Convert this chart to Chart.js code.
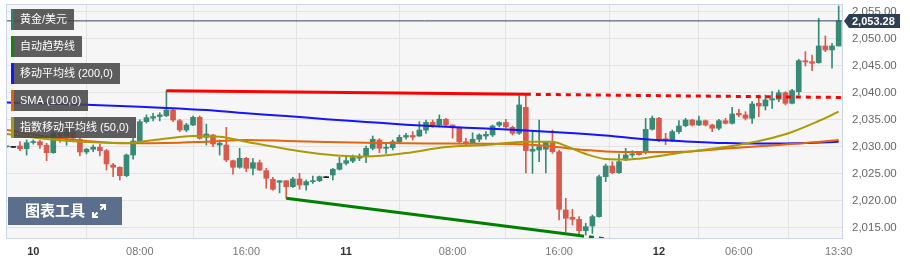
<!DOCTYPE html>
<html>
<head>
<meta charset="utf-8">
<script src="https://cdn.jsdelivr.net/npm/chart.js@4.4.1/dist/chart.umd.min.js"></script>
<style>
body { margin: 0; background: #fff; font-family: "Liberation Sans", Arial, "Noto Sans CJK SC", sans-serif; }
#wrap { position: relative; width: 910px; height: 264px; }
.tag { position: absolute; left: 11px; height: 21px; line-height: 21px; background: rgba(72,72,72,0.88);
       color: #fff; font-size: 11px; padding: 0 7px 0 6px; border-left: 3px solid; white-space: nowrap; }
#tools { position: absolute; left: 8px; top: 197px; width: 114px; height: 28px; background: #5b6f8d;
         color: #fff; font-size: 15px; font-weight: bold; line-height: 28px; box-sizing: border-box; padding-left: 17px; }
#tools svg { position: absolute; left: 84px; top: 7px; }
</style>
</head>
<body>
<div id="wrap">
  <canvas id="chart" width="910" height="264"></canvas>
  <div class="tag" style="top:9px;border-color:#2f7d6c">黄金/美元</div>
  <div class="tag" style="top:36px;border-color:#0a8a0a">自动趋势线</div>
  <div class="tag" style="top:63px;border-color:#1515ff">移动平均线 (200,0)</div>
  <div class="tag" style="top:90px;border-color:#e2620e">SMA (100,0)</div>
  <div class="tag" style="top:117px;border-color:#a89a05">指数移动平均线 (50,0)</div>
  <div id="tools">图表工具
    <svg width="14" height="14" viewBox="0 0 14 14"><path d="M8 1h5v5M13 1L8.5 5.5M6 13H1V8M1 13l4.5-4.5" stroke="#fff" stroke-width="2" fill="none"/></svg>
  </div>
</div>
<script>
// 30-minute gold candles, index 0 = first candle on the left
var open = [
  2030.0, 2029.9, 2030.16, 2029.66, 2030.8, 2030.95, 2030.29, 2028.92, 2032.5, 2032.0,
  2032.7, 2031.4, 2029.05, 2029.55, 2029.92, 2029.29, 2026.65, 2026.22, 2024.67, 2028.49,
  2031.08, 2034.65, 2035.3, 2035.6, 2035.75, 2036.8, 2034.83, 2033.11, 2034.04, 2035.46,
  2031.76, 2032.19, 2030.34, 2030.34, 2027.44, 2026.22, 2027.88, 2026.03, 2027.07, 2025.6,
  2024.0, 2023.45, 2023.74, 2022.63, 2024.06, 2022.95, 2023.56, 2023.74, 2024.3, 2024.8,
  2025.85, 2026.96, 2027.38, 2027.9, 2028.18, 2029.73, 2031.27, 2029.73, 2029.85, 2030.95,
  2031.8, 2032.1, 2032.0, 2033.1, 2034.53, 2034.04, 2035.1, 2034.04, 2033.43, 2030.95,
  2030.77, 2031.4, 2032.0, 2032.19, 2034.0, 2034.5, 2033.6, 2032.5, 2037.3, 2029.2,
  2029.42, 2029.55, 2030.66, 2029.1, 2018.33, 2016.98, 2016.6, 2014.5, 2015.37, 2017.1,
  2024.48, 2026.46, 2025.22, 2027.57, 2028.5, 2028.8, 2028.92, 2033.24, 2035.28, 2031.5,
  2031.27, 2032.8, 2033.9, 2034.96, 2034.04, 2034.83, 2034.04, 2033.43, 2034.83, 2034.35,
  2036.2, 2035.9, 2035.28, 2038.05, 2037.55, 2038.66, 2038.8, 2040.0, 2038.05, 2040.2,
  2045.92, 2045.74, 2045.55, 2048.64, 2047.9, 2048.64
];
var high = [
  2030.1, 2029.95, 2030.95, 2031.27, 2031.27, 2031.27, 2030.66, 2033.2, 2033.6, 2033.5,
  2033.2, 2031.64, 2029.73, 2030.34, 2030.53, 2029.55, 2026.96, 2026.33, 2028.68, 2031.58,
  2035.0, 2035.9, 2036.2, 2036.3, 2040.38, 2036.94, 2035.1, 2034.35, 2035.7, 2035.7,
  2034.2, 2032.3, 2031.27, 2033.6, 2027.57, 2029.73, 2028.07, 2027.81, 2027.57, 2026.03,
  2024.37, 2023.75, 2023.74, 2024.37, 2025.1, 2023.87, 2024.6, 2024.6, 2024.3, 2026.03,
  2028.07, 2028.07, 2028.49, 2028.68, 2030.16, 2032.0, 2031.5, 2030.66, 2031.27, 2032.19,
  2032.5, 2032.8, 2034.65, 2034.96, 2034.96, 2035.9, 2035.27, 2034.04, 2033.7, 2031.58,
  2032.6, 2032.4, 2032.8, 2034.04, 2034.65, 2035.1, 2033.85, 2039.4, 2039.9, 2032.8,
  2034.96, 2030.95, 2033.1, 2029.42, 2020.49, 2018.46, 2017.1, 2015.87, 2017.4, 2024.8,
  2026.83, 2027.26, 2028.68, 2029.73, 2029.29, 2028.9, 2035.27, 2035.7, 2035.46, 2032.5,
  2033.1, 2034.83, 2035.28, 2035.1, 2035.7, 2034.96, 2034.2, 2035.1, 2035.28, 2037.3,
  2036.94, 2036.5, 2038.35, 2039.58, 2039.58, 2040.2, 2040.5, 2040.2, 2040.64, 2046.18,
  2047.6, 2046.98, 2053.76, 2050.49, 2049.14, 2056.04
];
var low = [
  2029.9, 2029.85, 2029.29, 2028.49, 2030.5, 2029.73, 2027.44, 2028.8, 2030.8, 2030.3,
  2030.9, 2028.3, 2028.68, 2029.1, 2028.3, 2025.72, 2024.48, 2023.87, 2024.48, 2027.7,
  2030.9, 2034.4, 2034.8, 2034.8, 2035.6, 2034.65, 2032.8, 2032.8, 2033.9, 2031.4,
  2030.34, 2030.03, 2028.49, 2027.26, 2024.93, 2026.03, 2025.41, 2024.8, 2025.6, 2022.34,
  2022.0, 2021.5, 2020.49, 2022.52, 2022.15, 2022.0, 2023.26, 2023.56, 2024.3, 2023.87,
  2025.72, 2026.65, 2027.07, 2027.44, 2027.07, 2029.42, 2028.92, 2028.8, 2029.42, 2030.66,
  2031.4, 2031.27, 2031.9, 2032.5, 2033.6, 2033.7, 2033.85, 2031.6, 2030.53, 2030.34,
  2030.66, 2030.95, 2031.4, 2031.9, 2033.7, 2033.43, 2032.19, 2032.3, 2025.2, 2025.1,
  2027.26, 2025.2, 2028.8, 2016.5, 2014.3, 2015.55, 2013.7, 2013.7, 2014.0, 2017.0,
  2023.56, 2025.0, 2025.1, 2027.44, 2028.07, 2028.45, 2028.68, 2033.1, 2030.95, 2030.4,
  2030.95, 2032.5, 2033.7, 2033.85, 2033.9, 2033.85, 2032.8, 2033.11, 2034.2, 2034.2,
  2035.57, 2034.96, 2034.35, 2035.57, 2036.8, 2037.1, 2038.35, 2037.74, 2037.92, 2039.58,
  2044.94, 2044.08, 2045.44, 2047.59, 2044.52, 2048.64
];
var close = [
  2030.1, 2029.9, 2029.66, 2030.77, 2030.95, 2030.34, 2028.92, 2032.5, 2032.0, 2032.7,
  2031.6, 2029.05, 2029.55, 2029.92, 2029.29, 2026.83, 2026.22, 2024.67, 2028.49, 2031.08,
  2034.65, 2035.39, 2035.6, 2035.9, 2036.81, 2034.96, 2033.11, 2034.04, 2035.46, 2031.58,
  2032.38, 2030.53, 2030.66, 2027.57, 2026.22, 2027.88, 2026.03, 2027.07, 2025.72, 2024.19,
  2022.15, 2023.74, 2022.63, 2024.06, 2022.95, 2023.56, 2023.74, 2024.48, 2024.3, 2025.85,
  2026.96, 2027.44, 2028.0, 2028.07, 2029.73, 2031.4, 2029.73, 2029.85, 2030.95, 2031.76,
  2032.1, 2031.8, 2033.1, 2034.53, 2034.04, 2035.1, 2034.04, 2033.5, 2030.95, 2030.66,
  2031.4, 2032.19, 2032.3, 2033.85, 2034.5, 2033.7, 2032.5, 2037.74, 2029.3, 2029.55,
  2030.03, 2030.95, 2029.1, 2018.46, 2016.79, 2016.6, 2014.5, 2015.24, 2017.1, 2024.48,
  2026.46, 2025.22, 2027.26, 2028.49, 2028.7, 2028.55, 2033.24, 2035.28, 2031.27, 2031.2,
  2032.8, 2033.85, 2034.96, 2034.04, 2034.83, 2034.04, 2033.43, 2034.83, 2034.35, 2036.07,
  2035.9, 2035.28, 2037.92, 2037.55, 2038.66, 2038.9, 2040.0, 2038.05, 2040.38, 2045.92,
  2045.68, 2045.44, 2048.64, 2047.9, 2048.64, 2053.28
];

// moving averages, read at a handful of candles
var ma200Idx = [0, 6, 12, 18, 24, 30, 36, 42, 48, 54, 60, 66, 72, 78, 84, 90, 96, 102, 108, 114, 120, 125];
var ma200 = [2038.2, 2038.0, 2037.8, 2037.5, 2037.2, 2036.8, 2036.2, 2035.7, 2035.1, 2034.6, 2034.1,
             2033.7, 2033.4, 2033.0, 2032.6, 2032.1, 2031.4, 2031.0, 2030.7, 2030.6, 2030.7, 2030.95];
var sma100Idx = [0, 4, 8, 12, 18, 24, 30, 36, 42, 48, 54, 60, 66, 72, 78, 84, 87, 90, 96, 102, 108, 114, 120, 125];
var sma100 = [2033.1, 2032.3, 2031.6, 2031.1, 2030.65, 2030.7, 2030.95, 2031.25, 2031.1, 2030.9, 2030.75, 2030.66,
              2030.62, 2030.56, 2030.45, 2029.8, 2029.4, 2029.15, 2029.05, 2029.1, 2029.7, 2030.2, 2030.7, 2031.25];
var ema50Idx = [0, 6, 12, 18, 21, 24, 28, 32, 36, 42, 48, 54, 60, 66, 72, 78, 82, 84, 87, 90, 93, 96, 102, 108, 114, 118, 122, 125];
var ema50 = [2032.38, 2031.45, 2030.9, 2030.71, 2031.08, 2031.55, 2032.0, 2031.88, 2030.95, 2029.6, 2028.59, 2028.22,
             2028.86, 2029.97, 2030.34, 2030.95, 2030.95, 2030.16, 2028.68, 2027.75, 2027.66, 2027.94, 2029.05,
             2029.97, 2031.36, 2032.75, 2034.78, 2036.5];

// auto trend lines (candle index, price)
var resX = [24, 78], resY = [2040.38, 2039.71];
var resExtX = [78, 126], resExtY = [2039.71, 2039.12];
var supX = [42, 86], supY = [2020.49, 2013.6];
var supExtX = [86, 96], supExtY = [2013.6, 2012.05];

var lastPrice = 2053.28;
var yTicks = [2015, 2020, 2025, 2030, 2035, 2040, 2045, 2050, 2055];
var tickIdx = [4, 20, 36, 51, 67, 83, 98, 110, 125];
var tickText = ['10', '08:00', '16:00', '11', '08:00', '16:00', '12', '06:00', '13:30'];
var dayTick = [true, false, false, true, false, false, true, false, false];

var xMin = -0.1, xMax = 125.65;
var UP = '#378a76', DOWN = '#d85a4c';

function pts(xs, ys) {
    return xs.map(function(x, k) { return { x: x, y: ys[k] }; });
}

var candleColor = close.map(function(c, i) {
    if (c > open[i]) return UP;
    if (c < open[i]) return DOWN;
    return '#222';
});

function lineSet(data, color, width, order, extra) {
    var d = {
        type: 'line', data: data, borderColor: color, borderWidth: width,
        pointRadius: 0, fill: false, order: order, clip: 0
    };
    for (var k in extra) d[k] = extra[k];
    return d;
}

function noPad(s) {
    s.paddingTop = 0; s.paddingBottom = 0; s.paddingLeft = 0; s.paddingRight = 0;
}

var plotFrame = {
    id: 'plotFrame',
    beforeDraw: function(chart) {
        var a = chart.chartArea, ctx = chart.ctx;
        ctx.save();
        ctx.fillStyle = '#f6f6f6';
        ctx.fillRect(a.left, a.top, a.right - a.left, a.bottom - a.top);
        ctx.restore();
    },
    afterDraw: function(chart) {
        var a = chart.chartArea, ctx = chart.ctx;
        ctx.save();
        ctx.strokeStyle = '#cdd6e8';
        ctx.lineWidth = 1;
        ctx.strokeRect(a.left + 0.5, a.top + 0.5, a.right - a.left - 1, a.bottom - a.top);
        // last price tag
        var y = Math.round(chart.scales.y.getPixelForValue(lastPrice));
        var x0 = a.right + 1;
        ctx.fillStyle = '#2f3f53';
        ctx.beginPath();
        ctx.moveTo(x0, y);
        ctx.lineTo(x0 + 5, y - 7);
        ctx.lineTo(x0 + 56, y - 7);
        ctx.lineTo(x0 + 56, y + 7);
        ctx.lineTo(x0 + 5, y + 7);
        ctx.closePath();
        ctx.fill();
        ctx.fillStyle = '#fff';
        ctx.font = 'bold 11px "Liberation Sans", Arial, sans-serif';
        ctx.textBaseline = 'middle';
        ctx.fillText(lastPrice.toLocaleString('en-US', { minimumFractionDigits: 2 }), x0 + 8, y + 0.5);
        ctx.restore();
    }
};

new Chart(document.getElementById('chart'), {
    type: 'bar',
    data: {
        datasets: [
            lineSet(pts(resX, resY), '#ff0000', 3, 1),
            lineSet(pts(resExtX, resExtY), '#ff0000', 3, 1, { borderDash: [5, 5] }),
            lineSet(pts(supX, supY), '#008000', 3, 1),
            lineSet(pts(supExtX, supExtY), '#008000', 3, 1, { borderDash: [5, 5] }),
            lineSet([{ x: xMin, y: lastPrice }, { x: xMax, y: lastPrice }], '#34465a', 1, 2),
            lineSet(pts(ema50Idx, ema50), '#ab9a06', 2, 3, { cubicInterpolationMode: 'monotone' }),
            lineSet(pts(sma100Idx, sma100), '#e5640c', 2, 3, { cubicInterpolationMode: 'monotone' }),
            lineSet(pts(ma200Idx, ma200), '#1414ff', 2, 3, { cubicInterpolationMode: 'monotone' }),
            {
                type: 'bar', order: 8, grouped: false, clip: 0,
                data: open.map(function(o, i) { return { x: i, y: [o, close[i]] }; }),
                backgroundColor: candleColor, barThickness: 5, minBarLength: 1, borderWidth: 0
            },
            {
                type: 'bar', order: 9, grouped: false, clip: 0,
                data: open.map(function(o, i) { return { x: i, y: [low[i], high[i]] }; }),
                backgroundColor: candleColor, barThickness: 1, minBarLength: 1, borderWidth: 0
            }
        ]
    },
    options: {
        responsive: false,
        animation: false,
        events: [],
        layout: { padding: { left: 6, top: 4, right: 0, bottom: 0 } },
        plugins: { legend: { display: false }, tooltip: { enabled: false } },
        scales: {
            x: {
                type: 'linear', min: xMin, max: xMax, offset: false,
                afterBuildTicks: function(s) { s.ticks = tickIdx.map(function(v) { return { value: v }; }); },
                afterFit: function(s) { s.height = 26; noPad(s); },
                grid: { color: '#e3e3e3', drawTicks: false },
                border: { display: false },
                ticks: {
                    autoSkip: false, maxRotation: 0, padding: 7,
                    callback: function(v, i) { return tickText[i]; },
                    color: function(c) { return dayTick[c.index] ? '#333' : '#777'; },
                    font: function(c) {
                        return { size: 11, weight: dayTick[c.index] ? 'bold' : 'normal',
                                 family: '"Liberation Sans", Arial, sans-serif' };
                    }
                }
            },
            y: {
                position: 'right', min: 2013.15, max: 2056.4,
                afterBuildTicks: function(s) { s.ticks = yTicks.map(function(v) { return { value: v }; }); },
                afterFit: function(s) { s.width = 67; noPad(s); },
                grid: { color: '#e3e3e3', drawTicks: false },
                border: { display: false },
                ticks: {
                    padding: 9, crossAlign: 'near', color: '#666',
                    font: { size: 11.5, family: '"Liberation Sans", Arial, sans-serif' },
                    callback: function(v) { return v.toLocaleString('en-US', { minimumFractionDigits: 2 }); }
                }
            }
        }
    },
    plugins: [plotFrame]
});
</script>
</body>
</html>
